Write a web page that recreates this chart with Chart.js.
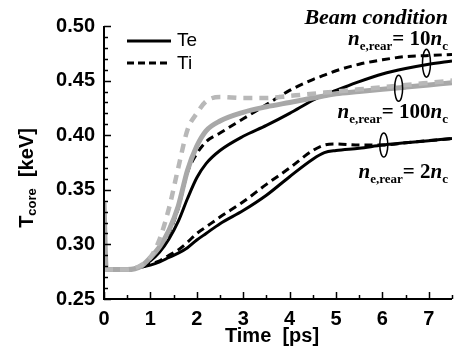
<!DOCTYPE html>
<html>
<head>
<meta charset="utf-8">
<script src="https://cdn.jsdelivr.net/npm/chart.js@4"></script>
<style>
  body { margin: 0; background: #fff; }
  #wrap { width: 455px; height: 360px; }
</style>
</head>
<body>
<div id="wrap"><canvas id="myChart" width="455" height="360"></canvas></div>
<script>
// time grid [ps]
const tiempo = [0, 0.05, 0.5, 0.8, 1.0, 1.2, 1.4, 1.6, 1.8, 2.0, 2.2, 2.5, 3.0, 3.5, 4.0, 4.5, 4.75, 5.0, 5.5, 6.0, 6.5, 7.0, 7.5];

// T_core [keV]
const te10  = [0.338, 0.277, 0.277, 0.280, 0.285, 0.293, 0.305, 0.321, 0.342, 0.361, 0.374, 0.386, 0.399, 0.409, 0.420, 0.432, 0.437, 0.441, 0.449, 0.456, 0.461, 0.465, 0.468];
const ti10  = [0.277, 0.277, 0.277, 0.280, 0.287, 0.296, 0.310, 0.333, 0.366, 0.383, 0.394, 0.402, 0.415, 0.428, 0.441, 0.451, 0.455, 0.459, 0.465, 0.469, 0.472, 0.473, 0.474];
const te100 = [0.338, 0.277, 0.277, 0.280, 0.288, 0.298, 0.313, 0.335, 0.368, 0.390, 0.404, 0.413, 0.421, 0.426, 0.430, 0.434, 0.436, 0.438, 0.440, 0.442, 0.444, 0.446, 0.448];
const ti100 = [0.277, 0.277, 0.277, 0.281, 0.288, 0.305, 0.333, 0.370, 0.405, 0.420, 0.431, 0.435, 0.434, 0.434, 0.436, 0.438, 0.439, 0.440, 0.442, 0.444, 0.446, 0.448, 0.450];
const te2   = [0.338, 0.277, 0.277, 0.279, 0.281, 0.284, 0.288, 0.292, 0.297, 0.304, 0.310, 0.319, 0.331, 0.345, 0.362, 0.378, 0.384, 0.386, 0.388, 0.391, 0.393, 0.395, 0.397];
const ti2   = [0.277, 0.277, 0.277, 0.279, 0.282, 0.285, 0.290, 0.295, 0.302, 0.310, 0.316, 0.325, 0.339, 0.355, 0.370, 0.386, 0.391, 0.392, 0.391, 0.391, 0.393, 0.395, 0.397];

const etiquetasBeam = ['10', '100', '2'];
// little ovals grouping each pair of curves (time, T, half height in px)
const ovals = [[6.95, 0.466, 14], [6.35, 0.443, 13], [6.03, 0.391, 12]];

const pares = (ys) => tiempo.map((t, i) => ({ x: t, y: ys[i] }));

function serie(label, ys, color, width, dash) {
    return {
        label,
        data: pares(ys),
        borderColor: color,
        borderWidth: width,
        borderDash: dash,
        pointRadius: 0,
        fill: false,
        cubicInterpolationMode: 'monotone'
    };
}

const decor = {
    id: 'decor',
    afterDraw(chart) {
        const ctx = chart.ctx;
        const x = chart.scales.x, y = chart.scales.y;
        const a = chart.chartArea;
        ctx.save();
        ctx.strokeStyle = '#000';
        ctx.fillStyle = '#000';

        // axes
        ctx.lineWidth = 2;
        ctx.beginPath();
        ctx.moveTo(a.left, a.top);
        ctx.lineTo(a.left, a.bottom);
        ctx.lineTo(a.right, a.bottom);
        ctx.stroke();

        // inward ticks
        ctx.lineWidth = 1.5;
        ctx.beginPath();
        for (let k = 0; k <= 25; k++) {
            const v = 0.25 + k * 0.01;
            const py = Math.round(y.getPixelForValue(v)) + 0.5;
            const len = k % 5 === 0 ? 7 : 4;
            ctx.moveTo(a.left, py);
            ctx.lineTo(a.left + len, py);
        }
        for (let k = 0; k <= 15; k++) {
            const px = Math.round(x.getPixelForValue(k * 0.5)) + 0.5;
            const len = k % 2 === 0 ? 7 : 4;
            ctx.moveTo(px, a.bottom);
            ctx.lineTo(px, a.bottom - len);
        }
        ctx.stroke();

        // x title
        ctx.font = 'bold 20px "Liberation Sans"';
        ctx.textAlign = 'center';
        ctx.textBaseline = 'alphabetic';
        ctx.fillText('Time  [ps]', 272, 342);
        ctx.textAlign = 'left';

        // y title with subscript
        ctx.save();
        ctx.translate(33, 178);
        ctx.rotate(-Math.PI / 2);
        const fT = 'bold 20px "Liberation Sans"', fS = 'bold 13px "Liberation Sans"';
        ctx.font = fT; const wT = ctx.measureText('T').width;
        ctx.font = fS; const wS = ctx.measureText('core').width;
        ctx.font = fT; const wR = ctx.measureText('  [keV]').width;
        let cx = -(wT + wS + wR) / 2;
        ctx.font = fT; ctx.fillText('T', cx, 0); cx += wT;
        ctx.font = fS; ctx.fillText('core', cx, 3); cx += wS;
        ctx.font = fT; ctx.fillText('  [keV]', cx, 0);
        ctx.restore();

        // legend
        ctx.lineWidth = 3;
        ctx.beginPath(); ctx.setLineDash([]);
        ctx.moveTo(127, 41); ctx.lineTo(171, 41); ctx.stroke();
        ctx.beginPath(); ctx.setLineDash([7, 4]);
        ctx.moveTo(127, 63); ctx.lineTo(171, 63); ctx.stroke();
        ctx.setLineDash([]);
        ctx.font = '19px "Liberation Sans"';
        ctx.textBaseline = 'middle';
        ctx.fillText(chart.data.datasets[5].label, 177, 41);
        ctx.fillText(chart.data.datasets[4].label, 177, 64);

        // beam condition labels
        ctx.textBaseline = 'alphabetic';
        ctx.textAlign = 'right';
        ctx.font = 'italic bold 22px "Liberation Serif"';
        ctx.fillText('Beam condition', 448, 24);
        ctx.textAlign = 'left';
        const bases = [45, 118, 178];
        etiquetasBeam.forEach((n, i) => {
            const parts = [
                ['n', 'italic bold 21px "Liberation Serif"', 0],
                ['e,rear', 'bold 13px "Liberation Serif"', 5],
                ['= ' + n, 'bold 21px "Liberation Serif"', 0],
                ['n', 'italic bold 21px "Liberation Serif"', 0],
                ['c', 'bold 13px "Liberation Serif"', 5]
            ];
            let w = 0;
            parts.forEach(p => { ctx.font = p[1]; w += ctx.measureText(p[0]).width; });
            let px = 448 - w;
            parts.forEach(p => {
                ctx.font = p[1];
                ctx.fillText(p[0], px, bases[i] + p[2]);
                px += ctx.measureText(p[0]).width;
            });
        });

        // ovals
        ctx.lineWidth = 1.5;
        ovals.forEach(o => {
            ctx.beginPath();
            ctx.ellipse(x.getPixelForValue(o[0]), y.getPixelForValue(o[1]), 4, o[2], 0, 0, Math.PI * 2);
            ctx.stroke();
        });
        ctx.restore();
    }
};

const ctx = document.getElementById('myChart');
new Chart(ctx, {
    type: 'line',
    data: {
        datasets: [
            serie('Ti 100', ti100, '#b8b8b8', 4.5, [9, 7]),
            serie('Te 100', te100, '#a8a8a8', 5, []),
            serie('Ti 2', ti2, '#000', 3, [8, 5]),
            serie('Te 2', te2, '#000', 3, []),
            serie('Ti', ti10, '#000', 3, [8, 5]),
            serie('Te', te10, '#000', 3, [])
        ]
    },
    options: {
        responsive: false,
        animation: false,
        devicePixelRatio: 1,
        layout: { padding: { top: 26, right: 3, left: 0, bottom: 0 } },
        plugins: { legend: { display: false }, tooltip: { enabled: false } },
        scales: {
            x: {
                type: 'linear',
                min: 0,
                max: 7.5,
                grid: { display: false, drawTicks: false },
                border: { display: false },
                ticks: {
                    stepSize: 1,
                    includeBounds: false,
                    padding: 8,
                    color: '#000',
                    font: { family: 'Liberation Sans', size: 20, weight: 'bold' },
                    maxRotation: 0
                },
                afterFit: s => { s.height = 61; }
            },
            y: {
                min: 0.25,
                max: 0.50,
                grid: { display: false, drawTicks: false },
                border: { display: false },
                ticks: {
                    stepSize: 0.05,
                    padding: 9,
                    color: '#000',
                    font: { family: 'Liberation Sans', size: 20, weight: 'bold' },
                    callback: v => v.toFixed(2)
                },
                afterFit: s => { s.width = 104; }
            }
        }
    },
    plugins: [decor]
});
</script>
</body>
</html>
